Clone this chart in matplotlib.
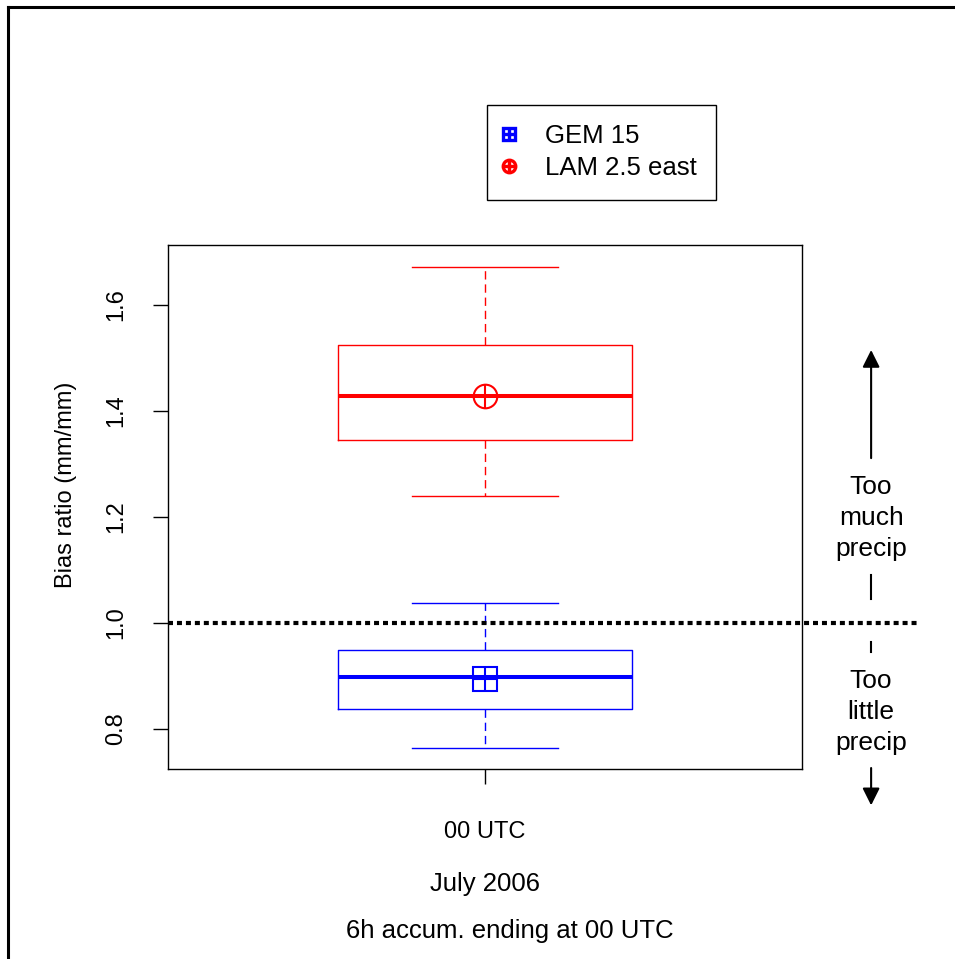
import matplotlib.pyplot as plt
import matplotlib.transforms as mtransforms
from matplotlib.lines import Line2D

plt.rcParams['font.family'] = ['Liberation Sans', 'DejaVu Sans']

# box statistics of the bias ratio, one entry per model
models = ['GEM 15', 'LAM 2.5 east']
colors = ['blue', 'red']
whisker_low = [0.764, 1.240]
q1 = [0.838, 1.345]
median = [0.898, 1.428]
q3 = [0.949, 1.524]
whisker_high = [1.038, 1.672]
mean = [0.895, 1.428]
mean_markers = ['s', 'o']
y_ticks = [0.8, 1.0, 1.2, 1.4, 1.6]
x_label = '00 UTC'

fig = plt.figure(figsize=(9.55, 9.59), dpi=100)
ax = fig.add_axes([0.1759, 0.1981, 0.6639, 0.5464])

for i in range(len(models)):
    c = colors[i]
    stats = [dict(med=median[i], q1=q1[i], q3=q3[i],
                  whislo=whisker_low[i], whishi=whisker_high[i], fliers=[])]
    ax.bxp(stats, positions=[1], widths=0.464, capwidths=0.23,
           showfliers=False, manage_ticks=False,
           boxprops=dict(color=c, lw=1.0),
           whiskerprops=dict(color=c, lw=1.0, linestyle=(0, (6, 3.5))),
           capprops=dict(color=c, lw=1.0),
           medianprops=dict(color=c, lw=2.9, solid_capstyle='butt'))
    # mean: open square / circle with a cross through it
    ax.plot([1], [mean[i]], marker=mean_markers[i], ms=17, mfc='none',
            mec=c, mew=1.5, ls='none', zorder=4)
    ax.plot([1], [mean[i]], marker='+', ms=17, mec=c, mew=1.5,
            ls='none', zorder=4)

ax.set_xlim(0.5, 1.5)
ax.set_ylim(0.7245, 1.713)
ax.set_xticks([1], [x_label])
ax.set_yticks(y_ticks, [f'{v:.1f}' for v in y_ticks])
ax.tick_params(axis='both', length=10.5, width=1, labelsize=17, direction='out')
ax.tick_params(axis='x', pad=27)
ax.tick_params(axis='y', pad=19, labelrotation=90)
plt.setp(ax.get_yticklabels(), va='center')
for s in ax.spines.values():
    s.set_linewidth(1)
ax.set_ylabel('Bias ratio (mm/mm)', fontsize=17)
ax.yaxis.set_label_coords(-0.1435, 0.543)

# perfect-bias line, running out past the right edge
ax.axhline(1.0, xmin=0, xmax=1.183, color='k', lw=3,
           linestyle=(0, (1.2, 0.95)), clip_on=False, zorder=5)

trans = mtransforms.blended_transform_factory(ax.transAxes, ax.transData)
side_x = 1.109
arrow = dict(arrowstyle='-|>', color='k', lw=1.5, mutation_scale=26,
             shrinkA=0, shrinkB=0)
ax.annotate('', xy=(side_x, 1.515), xytext=(side_x, 1.311),
            xycoords=('axes fraction', 'data'), textcoords=('axes fraction', 'data'),
            arrowprops=arrow, annotation_clip=False)
ax.annotate('', xy=(side_x, 0.656), xytext=(side_x, 0.7264),
            xycoords=('axes fraction', 'data'), textcoords=('axes fraction', 'data'),
            arrowprops=arrow, annotation_clip=False)
ax.plot([side_x, side_x], [1.0453, 1.0906], transform=trans, color='k',
        lw=1.5, clip_on=False)
ax.plot([side_x, side_x], [0.945, 0.964], transform=trans, color='k',
        lw=1.5, clip_on=False)
ax.text(side_x, 1.198, 'Too\nmuch\nprecip', transform=trans, ha='center',
        va='center', fontsize=19, linespacing=1.36)
ax.text(side_x, 0.832, 'Too\nlittle\nprecip', transform=trans, ha='center',
        va='center', fontsize=19, linespacing=1.36)

handles = []
for i in range(len(models)):
    handles.append((
        Line2D([], [], marker=mean_markers[i], ms=9, mfc='none', mec=colors[i],
               mew=2.4, ls='none'),
        Line2D([], [], marker='+', ms=9, mec=colors[i], mew=2.4, ls='none')))
leg = fig.legend(handles, models, loc='upper left',
                 bbox_to_anchor=(487 / 955, 1 - 105 / 959), borderaxespad=0,
                 fontsize=18.5, fancybox=False, edgecolor='black', framealpha=1,
                 borderpad=0.75, handlelength=0.2, handletextpad=1.31,
                 labelspacing=0.31)
leg.get_frame().set_linewidth(1)

fig.text(485 / 955, 1 - 884 / 959, 'July 2006', ha='center', va='center',
         fontsize=18.5)
fig.text(510 / 955, 1 - 931 / 959, '6h accum. ending at 00 UTC', ha='center',
         va='center', fontsize=18.5)

# outer frame (top and left edges)
fig.add_artist(Line2D([8 / 955, 1], [1 - 7 / 959, 1 - 7 / 959],
                      transform=fig.transFigure, color='k', lw=2.2))
fig.add_artist(Line2D([8 / 955, 8 / 955], [0, 1 - 7 / 959],
                      transform=fig.transFigure, color='k', lw=2.2,
                      solid_capstyle='projecting'))

fig.savefig('out.png', dpi=100)
